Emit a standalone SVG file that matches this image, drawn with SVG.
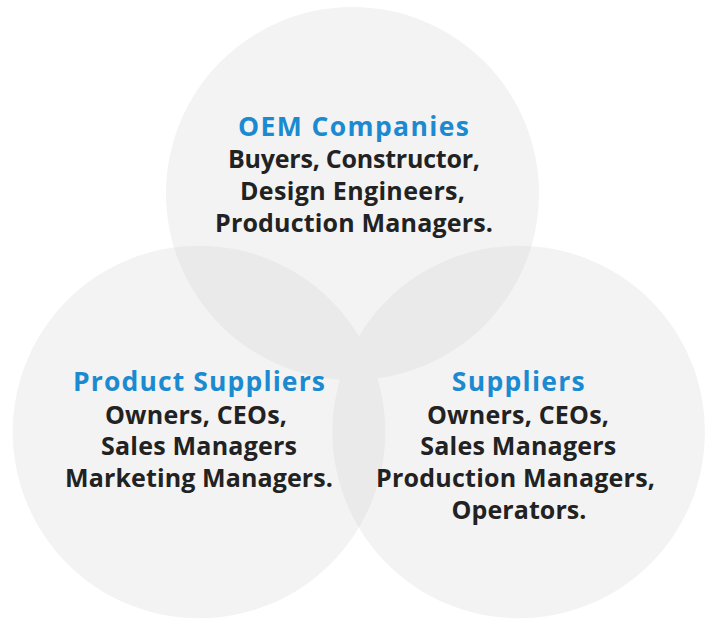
<svg xmlns="http://www.w3.org/2000/svg" width="706" height="619" viewBox="0 0 706 619">
<style>
.c{fill:#f3f3f3}
.o{fill:#eaeaea}
.h{font-family:"Open Sans","Liberation Sans",sans-serif;font-weight:700;font-size:26.5px;fill:#1b8ad0;text-anchor:middle}
.t{font-family:"Open Sans","Liberation Sans",sans-serif;font-weight:700;font-size:25px;fill:#222;text-anchor:middle}
</style>
<defs>
<clipPath id="clipTop"><circle cx="352.5" cy="193.5" r="186.5"/></clipPath>
<clipPath id="clipLeft"><circle cx="199" cy="432" r="186.3"/></clipPath>
</defs>
<rect width="706" height="619" fill="#fff"/>
<g id="circles">
<circle class="c" cx="352.5" cy="193.5" r="186.5"/>
<circle class="c" cx="199" cy="432" r="186.3"/>
<circle class="c" cx="518.7" cy="432" r="186.3"/>
<circle class="o" cx="199" cy="432" r="186.3" clip-path="url(#clipTop)"/>
<circle class="o" cx="518.7" cy="432" r="186.3" clip-path="url(#clipTop)"/>
<circle class="o" cx="518.7" cy="432" r="186.3" clip-path="url(#clipLeft)"/>
</g>
<g id="oem">
<text class="h" x="353.5" y="135.5" textLength="231">OEM Companies</text>
<text class="t" x="354" y="168" textLength="252">Buyers, Constructor,</text>
<text class="t" x="352.5" y="200" textLength="225">Design Engineers,</text>
<text class="t" x="354" y="232" textLength="278">Production Managers.</text>
</g>
<g id="product-suppliers">
<text class="h" x="199" y="391" textLength="252">Product Suppliers</text>
<text class="t" x="196" y="423.5" textLength="182">Owners, CEOs,</text>
<text class="t" x="199" y="455" textLength="196">Sales Managers</text>
<text class="t" x="199" y="487" textLength="268">Marketing Managers.</text>
</g>
<g id="suppliers">
<text class="h" x="518.3" y="391" textLength="133">Suppliers</text>
<text class="t" x="518" y="423.5" textLength="182">Owners, CEOs,</text>
<text class="t" x="518.3" y="455" textLength="196">Sales Managers</text>
<text class="t" x="515.5" y="487" textLength="279">Production Managers,</text>
<text class="t" x="519" y="518.5" textLength="135">Operators.</text>
</g>
</svg>
